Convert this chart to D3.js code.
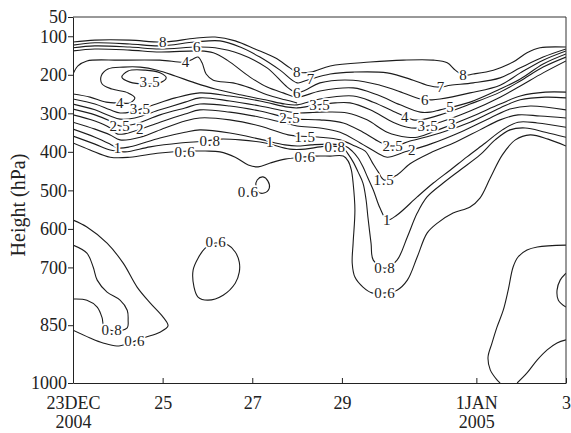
<!DOCTYPE html>
<html><head><meta charset="utf-8">
<script src="https://cdn.jsdelivr.net/npm/d3@7"></script>
<style>
body{margin:0;background:#fff;}
svg{display:block;font-family:"Liberation Serif","Times New Roman",serif;}
</style></head><body>
<svg id="chart" width="571" height="433"></svg>
<script>
// Vertical axis: pressure (hPa), linear, increasing downward
const yTicks = [50, 100, 200, 300, 400, 500, 600, 700, 850, 1000];
// Horizontal axis: days since 00 UTC 23 Dec 2004
const xTicks = [0, 2, 4, 6, 9, 11];
const xTickLabels = [["23DEC", "2004"], ["25"], ["27"], ["29"], ["1JAN", "2005"], ["3"]];

// Contour lines, each as [day, hPa] points along the isoline
const line8 = [[0,115],[0.49,110],[1.27,110],[2.01,115],[2.72,105],[3.17,102],[3.62,112],[4.06,133],[4.51,156],[4.84,182],[5.00,193],[5.31,193],[5.74,177],[6.63,167],[7.37,162],[8.04,162],[8.35,169],[8.53,188],[8.71,201],[8.93,198],[9.38,188],[9.82,167],[10.13,143],[10.42,130],[11,128]];
const line7 = [[0,123],[0.49,117],[1.27,120],[1.94,125],[2.72,115],[3.28,112],[3.73,128],[4.17,154],[4.62,188],[5.00,221],[5.22,214],[5.74,198],[6.25,193],[7.01,195],[7.59,214],[7.90,227],[8.19,232],[8.42,227],[8.93,221],[9.53,208],[9.98,182],[10.49,154],[11,133]];
const line6 = [[0,130],[0.49,125],[1.27,128],[1.94,133],[2.77,128],[3.17,130],[3.73,146],[4.33,182],[4.78,232],[5.00,247],[5.18,240],[5.51,221],[6.25,214],[6.85,227],[7.37,247],[7.75,263],[8.01,265],[8.19,263],[8.86,247],[9.53,227],[9.98,195],[10.49,162],[11,138]];
const line5 = [[0,138],[0.49,133],[1.27,136],[1.94,141],[2.83,138],[3.13,143],[3.44,162],[3.95,206],[4.33,232],[4.69,247],[5.00,258],[5.51,242],[6.25,234],[6.79,252],[7.30,278],[7.75,297],[7.97,297],[8.19,291],[8.86,271],[9.53,237],[9.98,211],[10.49,172],[11,146]];
const line4a = [[0,198],[0.11,177],[0.31,164],[1.05,162],[1.94,162],[2.52,167],[2.68,159],[2.79,154],[2.88,169],[2.97,198],[3.13,214],[3.57,221],[3.95,234],[4.33,252],[4.73,265],[5.00,273]];
const line4b = [[0,250],[0.38,258],[0.74,271],[1.05,273],[1.27,273],[1.38,260],[1.23,247],[0.87,237],[0.65,224],[0.63,203],[0.78,185],[1.12,180],[1.50,180],[1.88,188],[2.28,203],[2.72,221],[3.17,237],[3.73,252],[4.29,265],[4.73,276],[5.00,278],[5.51,263],[6.25,255],[6.70,271],[7.23,299],[7.59,317],[7.75,317],[8.19,304],[8.86,276],[9.53,245],[9.98,216],[10.49,180],[11,154]];
const line35 = [[0,263],[0.49,276],[0.83,291],[1.05,299],[1.27,297],[1.72,281],[2.28,260],[2.83,247],[3.50,255],[4.17,268],[4.80,284],[5.00,286],[5.31,281],[5.85,273],[6.18,273],[6.63,291],[7.14,323],[7.46,336],[7.70,338],[8.19,323],[8.86,294],[9.53,258],[9.98,229],[10.49,195],[11,164]];
const loop35 = [[1.09,206],[1.23,190],[1.61,188],[1.94,195],[2.08,208],[1.94,221],[1.61,224],[1.27,219]];
const line3 = [[0,276],[0.49,291],[0.83,307],[1.05,315],[1.38,312],[1.94,291],[2.50,271],[2.83,260],[3.50,268],[4.17,281],[4.73,294],[5.00,299],[5.51,297],[6.12,299],[6.56,317],[7.01,349],[7.46,362],[7.68,362],[8.19,341],[8.86,310],[9.53,276],[9.98,255],[10.54,245],[11,245]];
const line25 = [[0,289],[0.49,304],[0.83,320],[1.05,333],[1.38,328],[1.94,304],[2.50,286],[2.83,276],[3.50,281],[4.17,294],[4.73,310],[5.00,315],[5.51,317],[6.03,325],[6.47,349],[6.85,375],[7.14,385],[7.52,372],[8.19,351],[8.86,323],[9.53,286],[9.98,265],[10.54,258],[11,260]];
const line2 = [[0,304],[0.49,320],[0.83,338],[1.00,354],[1.38,346],[1.94,323],[2.50,302],[2.83,291],[3.50,297],[4.17,310],[4.73,325],[5.00,333],[5.51,338],[5.96,349],[6.41,377],[6.79,403],[7.01,414],[7.41,400],[7.97,380],[8.64,349],[9.31,312],[9.75,289],[10.20,281],[11,291]];
const line15 = [[0,323],[0.49,341],[0.83,356],[1.05,369],[1.50,362],[2.05,338],[2.50,320],[2.83,312],[3.50,317],[4.17,333],[4.80,356],[5.00,359],[5.51,362],[5.96,369],[6.29,385],[6.52,398],[6.67,426],[6.81,452],[6.94,473],[7.23,460],[7.52,431],[7.97,403],[8.53,375],[9.08,343],[9.53,317],[9.93,304],[10.42,307],[11,312]];
const line1 = [[0,341],[0.49,362],[0.83,380],[1.00,390],[1.27,387],[1.94,364],[2.50,349],[2.83,343],[3.50,351],[4.17,367],[4.73,382],[5.00,385],[5.31,382],[5.74,380],[6.07,385],[6.23,398],[6.36,416],[6.47,439],[6.58,468],[6.70,499],[6.85,546],[7.01,577],[7.23,564],[7.68,517],[8.04,481],[8.42,447],[8.79,413],[9.20,377],[9.58,343],[9.93,323],[10.36,325],[11,336]];
const line08 = [[0,359],[0.49,380],[0.83,395],[1.16,400],[1.72,387],[2.39,377],[2.95,372],[3.28,367],[3.73,369],[4.29,377],[4.84,393],[5.18,393],[5.51,387],[5.74,385],[6.03,390],[6.14,406],[6.25,426],[6.36,452],[6.47,481],[6.54,525],[6.58,569],[6.65,637],[6.70,681],[6.96,702],[7.23,681],[7.46,621],[7.68,559],[7.90,517],[8.26,481],[8.64,447],[9.08,408],[9.42,369],[9.75,343],[10.09,338],[10.54,349],[11,362]];
const line06 = [[0,377],[0.38,395],[0.83,414],[1.27,414],[1.94,403],[2.61,398],[2.95,398],[3.28,400],[3.62,414],[3.91,434],[4.13,439],[4.40,429],[4.73,419],[5.07,414],[5.40,411],[5.74,411],[6.03,411],[6.14,424],[6.21,447],[6.25,481],[6.29,551],[6.25,637],[6.23,689],[6.29,725],[6.47,751],[6.67,766],[6.96,766],[7.23,759],[7.46,733],[7.68,673],[7.90,611],[8.13,585],[8.48,559],[8.86,543],[9.08,520],[9.31,468],[9.58,408],[9.87,369],[10.20,356],[10.60,367],[11,385]];
// Isolated 0.6 cells in the mid troposphere
const cellSmall06 = [[4.08,489],[4.11,473],[4.24,465],[4.35,476],[4.38,494],[4.26,507],[4.13,504]];
const cellOval06 = [[2.79,676],[2.95,650],[3.17,637],[3.46,642],[3.62,660],[3.71,686],[3.71,712],[3.62,741],[3.35,772],[3.01,785],[2.79,777],[2.70,751],[2.68,707]];
// Near-surface contours
const lowLeft06 = [[0,577],[0.31,595],[0.76,637],[1.12,689],[1.43,751],[1.72,792],[2.01,829],[2.12,852],[1.94,868],[1.56,883],[1.27,896],[0.98,904],[0.67,896],[0.38,883],[0,863]];
const lowLeft08 = [[0,642],[0.31,663],[0.45,699],[0.54,733],[0.76,764],[1.05,785],[1.21,811],[1.23,837],[1.21,857],[0.94,865],[0.69,852],[0.65,831],[0.54,803],[0.31,785],[0,782]];
const lowRightA = [[11,642],[10.36,647],[10.13,655],[9.93,673],[9.82,699],[9.71,759],[9.60,811],[9.46,855],[9.35,896],[9.26,933],[9.31,966],[9.46,992],[9.53,1000]];
const lowRightB = [[9.91,1000],[10.13,974],[10.36,940],[10.58,914],[10.80,896],[11,888]];
const lowRightC = [[11,715],[10.87,733],[10.80,759],[10.83,785],[11,803]];

// Contour labels: [text, day, hPa]
const contourLabels = [
  ["8",2.01,115],["6",2.77,128],["4",2.52,167],["3.5",1.72,219],
  ["4",1.05,273],["3.5",1.50,289],["2.5",1.05,333],["2",1.50,341],["1",1.00,390],
  ["0.8",3.06,371],["0.6",2.50,399],
  ["8",5.00,193],["7",5.31,211],["6",5.00,247],["3.5",5.51,278],["2.5",4.84,312],["1.5",5.18,360],["1",4.40,373],
  ["0.8",5.85,387],["0.6",5.18,413],
  ["8",8.71,201],["7",8.21,232],["6",7.86,264],["5",8.42,284],["4",7.41,308],["3.5",7.92,332],["3",8.46,328],
  ["2.5",7.14,385],["2",7.57,394],["1.5",6.94,473],["1",7.01,577],["0.8",6.96,702],["0.6",6.96,766],
  ["0.6",3.91,504],["0.6",3.19,634],
  ["0.8",0.87,862],["0.6",1.38,891]
];

const openLines = [line8, line7, line6, line5, line4a, line4b, line35, line3, line25, line2, line15, line1, line08, line06,
                   lowLeft06, lowLeft08, lowRightA, lowRightB, lowRightC];
const closedLines = [loop35, cellSmall06, cellOval06];

const W = 571, H = 433;
const margin = {top: 17, right: 5, bottom: 50, left: 73};
const svg = d3.select("#chart");

const x = d3.scaleLinear().domain([0, 11]).range([margin.left, W - margin.right]);
const y = d3.scaleLinear().domain([50, 1000]).range([margin.top, H - margin.bottom]);

svg.append("defs").append("clipPath").attr("id", "plot")
  .append("rect").attr("x", x(0)).attr("y", y(50))
  .attr("width", x(11) - x(0)).attr("height", y(1000) - y(50));

const g = svg.append("g").attr("clip-path", "url(#plot)");
const lineOpen = d3.line().x(d => x(d[0])).y(d => y(d[1])).curve(d3.curveCatmullRom.alpha(0.5));
const lineClosed = d3.line().x(d => x(d[0])).y(d => y(d[1])).curve(d3.curveCatmullRomClosed.alpha(0.5));

g.selectAll("path.open").data(openLines).join("path")
  .attr("class", "open").attr("d", lineOpen)
  .attr("fill", "none").attr("stroke", "#1c1c1c").attr("stroke-width", 1.1);
g.selectAll("path.closed").data(closedLines).join("path")
  .attr("class", "closed").attr("d", lineClosed)
  .attr("fill", "none").attr("stroke", "#1c1c1c").attr("stroke-width", 1.1);

// labels with a white halo that breaks the isolines
svg.append("g").selectAll("text").data(contourLabels).join("text")
  .attr("x", d => x(d[1])).attr("y", d => y(d[2]))
  .attr("dy", "0.35em")
  .attr("text-anchor", "middle")
  .attr("font-size", 15)
  .attr("letter-spacing", 0.8)
  .attr("fill", "#222")
  .attr("stroke", "#fff").attr("stroke-width", 3.5).attr("stroke-linejoin", "round")
  .attr("paint-order", "stroke")
  .text(d => d[0]);

// frame: top and right edges
svg.append("line").attr("x1", x(0)).attr("x2", x(11)).attr("y1", y(50)).attr("y2", y(50))
  .attr("stroke", "#333").attr("stroke-width", 1);
svg.append("line").attr("x1", x(11)).attr("x2", x(11)).attr("y1", y(50)).attr("y2", y(1000))
  .attr("stroke", "#333").attr("stroke-width", 1);

// left axis
const yAxis = svg.append("g").attr("transform", `translate(${x(0)},0)`)
  .call(d3.axisLeft(y).tickValues(yTicks).tickFormat(d3.format("d"))
    .tickSize(5).tickSizeOuter(0).tickPadding(1));
yAxis.selectAll("text").attr("font-size", 18).attr("fill", "#222")
  .attr("font-family", "Liberation Serif, serif");
yAxis.selectAll("line, path").attr("stroke", "#222");

// bottom axis, ticks pointing inward, two-line date labels
const xAxis = svg.append("g").attr("transform", `translate(0,${y(1000)})`)
  .call(d3.axisBottom(x).tickValues(xTicks).tickSizeInner(-5).tickSizeOuter(0).tickPadding(13));
xAxis.selectAll("line, path").attr("stroke", "#222");
xAxis.selectAll("text").attr("font-size", 18).attr("fill", "#222")
  .attr("font-family", "Liberation Serif, serif")
  .text(null)
  .each(function(d, i) {
    const t = d3.select(this);
    xTickLabels[i].forEach((s, j) => {
      t.append("tspan").attr("x", 0).attr("dy", j === 0 ? "0.71em" : "1.06em").text(s);
    });
  });

// axis title
svg.append("text")
  .attr("transform", `translate(25,${(y(50) + y(1000)) / 2 + 5}) rotate(-90)`)
  .attr("text-anchor", "middle")
  .attr("font-size", 20).attr("fill", "#222")
  .text("Height (hPa)");
</script>
</body></html>
